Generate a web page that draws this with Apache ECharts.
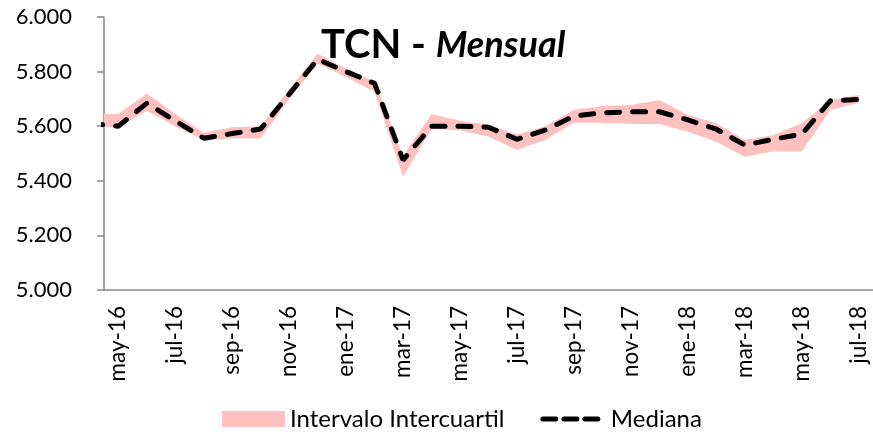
<!DOCTYPE html>
<html>
<head>
<meta charset="utf-8">
<script src="https://cdn.jsdelivr.net/npm/echarts@6/dist/echarts.min.js"></script>
<style>
html,body{margin:0;padding:0;background:#fff;}
#main{width:873px;height:441px;}
</style>
</head>
<body>
<div id="main"></div>
<script>
// meses (abr-16 solo asoma en el borde izquierdo)
var meses = ['abr-16','may-16','jun-16','jul-16','ago-16','sep-16','oct-16','nov-16','dic-16',
	'ene-17','feb-17','mar-17','abr-17','may-17','jun-17','jul-17','ago-17','sep-17','oct-17','nov-17','dic-17',
	'ene-18','feb-18','mar-18','abr-18','may-18','jun-18','jul-18'];

var mediana = [5.610,5.600,5.684,5.620,5.556,5.573,5.590,5.717,5.845,
	5.800,5.757,5.476,5.600,5.600,5.596,5.552,5.586,5.637,5.649,5.653,5.653,
	5.623,5.589,5.531,5.552,5.571,5.693,5.698];
var q1 = [5.600,5.595,5.657,5.600,5.549,5.556,5.555,5.700,5.830,
	5.780,5.726,5.415,5.590,5.585,5.562,5.513,5.550,5.613,5.613,5.608,5.608,
	5.580,5.543,5.488,5.507,5.507,5.659,5.686];
var q3 = [5.645,5.645,5.720,5.645,5.576,5.596,5.600,5.735,5.865,
	5.810,5.765,5.490,5.645,5.620,5.605,5.570,5.600,5.660,5.674,5.678,5.696,
	5.641,5.611,5.549,5.568,5.611,5.695,5.714];

var fuente = 'Lato';
var rosa = '#ffc0c0';

// x en meses, centrado en cada mes; may-16 = 0.5
function xMes(i){ return i-0.5; }
var banda = q1.map(function(v,i){ return [xMes(i), v, q3[i]]; });
var lineaMed = mediana.map(function(v,i){ return [xMes(i), v]; });

// banda intercuartil como un solo poligono
function dibujaBanda(params, api){
	if (params.dataIndex !== 0) return;
	var arriba = [], abajo = [];
	for (var i = 0; i < q1.length; i++) {
		arriba.push(api.coord([xMes(i), q3[i]]));
		abajo.unshift(api.coord([xMes(i), q1[i]]));
	}
	return {
		type:'polygon',
		shape:{points:arriba.concat(abajo)},
		style:{fill:rosa, stroke:null}
	};
}

var myChart = echarts.init(document.getElementById('main'));

var option = {
	animation:false,
	backgroundColor:'#fff',
	title:{
		left:316, top:20,
		text:'{a|TCN - }{b|Mensual}',
		textStyle:{
			rich:{
				a:{fontFamily:fuente,fontWeight:'bold',fontSize:40,color:'#000'},
				b:{fontFamily:fuente,fontWeight:'bold',fontStyle:'italic',fontSize:36,color:'#000'}
			}
		}
	},
	legend:{
		bottom:5, left:217,
		itemWidth:63, itemHeight:16, itemGap:36,
		textStyle:{fontFamily:fuente,fontSize:24,color:'#000'},
		data:[
			{name:'Intervalo Intercuartil',icon:'rect',itemStyle:{color:rosa}},
			{name:'Mediana',itemStyle:{opacity:0},lineStyle:{width:5,type:[13,8],cap:'round',color:'#000'}}
		]
	},
	grid:{left:104,right:0,top:17,bottom:151},
	xAxis:[{
		type:'category',
		data:meses.slice(1),
		boundaryGap:true,
		axisLine:{lineStyle:{color:'#888',width:1.5}},
		axisTick:{interval:1,length:7,lineStyle:{color:'#888',width:1.5}},
		axisLabel:{interval:1,rotate:90,margin:16,fontFamily:fuente,fontSize:22.5,color:'#000'}
	},{
		type:'value', min:0, max:27, show:false
	}],
	yAxis:{
		type:'value', min:5, max:6, interval:0.2,
		splitLine:{show:false},
		axisLine:{show:true,lineStyle:{color:'#888',width:1.5}},
		axisTick:{show:true,length:7,lineStyle:{color:'#888',width:1.5}},
		axisLabel:{margin:32,fontFamily:fuente,fontSize:22,color:'#000',
			formatter:function(v){ return v.toFixed(3); }}
	},
	series:[{
		name:'Intervalo Intercuartil', type:'custom', xAxisIndex:1,
		renderItem:dibujaBanda, clip:true,
		itemStyle:{color:rosa},
		encode:{x:0, y:[1,2]},
		data:banda, silent:true
	},{
		name:'Mediana', type:'line', xAxisIndex:1,
		data:lineaMed, symbol:'none',
		itemStyle:{color:'#000'},
		lineStyle:{color:'#000',width:5,type:[13,13],cap:'round'},
		z:5
	}]
};

myChart.setOption(option);
</script>
</body>
</html>
